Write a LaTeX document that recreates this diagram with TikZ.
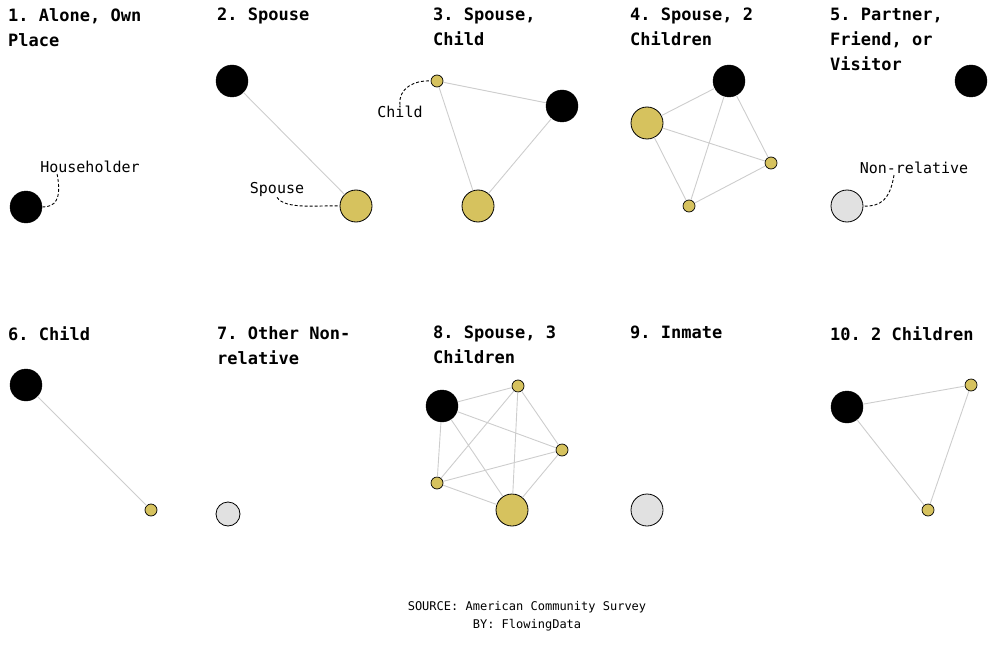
\documentclass[tikz,border=0pt]{standalone}
\usepackage{fontspec}
\setmonofont{DejaVu Sans Mono}
\begin{document}
\begin{tikzpicture}[x=1pt,y=-1pt,
 hh/.style={circle,fill=black,draw=black,minimum size=32pt,inner sep=0pt},
 sp/.style={circle,fill={rgb,255:red,214;green,194;blue,94},draw=black,line width=0.8pt,minimum size=32pt,inner sep=0pt},
 ch/.style={circle,fill={rgb,255:red,214;green,194;blue,94},draw=black,line width=0.7pt,minimum size=12pt,inner sep=0pt},
 nr/.style={circle,fill={rgb,255:red,225;green,225;blue,225},draw=black,line width=0.8pt,minimum size=32pt,inner sep=0pt},
 ed/.style={draw={rgb,255:red,205;green,205;blue,205},line width=0.9pt},
 ttl/.style={font=\ttfamily\bfseries\fontsize{17}{25}\selectfont,anchor=north west,align=left,inner sep=0pt},
 lab/.style={font=\ttfamily\fontsize{15}{18}\selectfont,inner sep=1pt},
 ann/.style={densely dashed,line width=0.9pt}]
\useasboundingbox (0,0) rectangle (1000,647);
\node[ttl] (t1) at (8,8) {1. Alone, Own\\Place};
\node[ttl] (t2) at (217,8) {2. Spouse};
\node[ttl] (t3) at (433,8) {3. Spouse,\\Child};
\node[ttl] (t4) at (630,8) {4. Spouse, 2\\Children};
\node[ttl] (t5) at (830,8) {5. Partner,\\Friend, or\\Visitor};
\node[ttl] (t6) at (8,326) {6. Child};
\node[ttl] (t7) at (217,326) {7. Other Non-\\relative};
\node[ttl] (t8) at (433,326) {8. Spouse, 3\\Children};
\node[ttl] (t9) at (630,326) {9. Inmate};
\node[ttl] (t10) at (830,326) {10. 2 Children};
% panel 1
\node[hh] (a1) at (26,207) {};
\node[lab] (l1) at (90,167) {Householder};
\draw[ann] (l1.south west) ++(18,0) coordinate (l1s) (l1s) .. controls (62,200) and (55,207) .. (a1.east);
% panel 2
\node[hh] (b1) at (232,81) {};
\node[sp] (b2) at (356,206) {};
\draw[ed] (b1) -- (b2);
\node[lab] (l2) at (277,189) {Spouse};
\draw[ann] (l2.south) .. controls (285,210) and (320,205) .. (b2.west);
% panel 3
\node[ch] (c1) at (437,81) {};
\node[hh] (c2) at (562,106) {};
\node[sp] (c3) at (478,206) {};
\draw[ed] (c1) -- (c2) (c2) -- (c3) (c1) -- (c3);
\node[lab] (l3) at (400,112) {Child};
\draw[ann] (l3.north) .. controls (398,88) and (415,80) .. (c1.west);
% panel 4
\node[hh] (d1) at (729,81) {};
\node[sp] (d2) at (647,123) {};
\node[ch] (d3) at (771,163) {};
\node[ch] (d4) at (689,206) {};
\draw[ed] (d1)--(d2) (d1)--(d3) (d1)--(d4) (d2)--(d3) (d2)--(d4) (d3)--(d4);
% panel 5
\node[hh] (e1) at (971,81) {};
\node[nr] (e2) at (847,206) {};
\node[lab] (l5) at (914,168) {Non-relative};
\draw[ann] (l5.south) ++(-20,0) coordinate (l5s) (l5s) .. controls (890,200) and (880,207) .. (e2.east);
% panel 6
\node[hh] (f1) at (26,385) {};
\node[ch] (f2) at (151,510) {};
\draw[ed] (f1)--(f2);
% panel 7
\node[nr,minimum size=24pt] (g1) at (228,514) {};
% panel 8
\node[hh] (h1) at (442,406) {};
\node[ch] (h2) at (518,386) {};
\node[ch] (h3) at (562,450) {};
\node[ch] (h4) at (437,483) {};
\node[sp] (h5) at (512,510) {};
\draw[ed] (h1)--(h2) (h1)--(h3) (h1)--(h4) (h1)--(h5) (h2)--(h3) (h2)--(h4) (h2)--(h5) (h3)--(h4) (h3)--(h5) (h4)--(h5);
% panel 9
\node[nr] (i1) at (647,510) {};
% panel 10
\node[hh] (j1) at (847,407) {};
\node[ch] (j2) at (971,385) {};
\node[ch] (j3) at (928,510) {};
\draw[ed] (j1)--(j2) (j2)--(j3) (j1)--(j3);
\node[font=\ttfamily\fontsize{12}{18}\selectfont,align=center] (src) at (527,616) {SOURCE: American Community Survey\\BY: FlowingData};
\end{tikzpicture}
\end{document}
